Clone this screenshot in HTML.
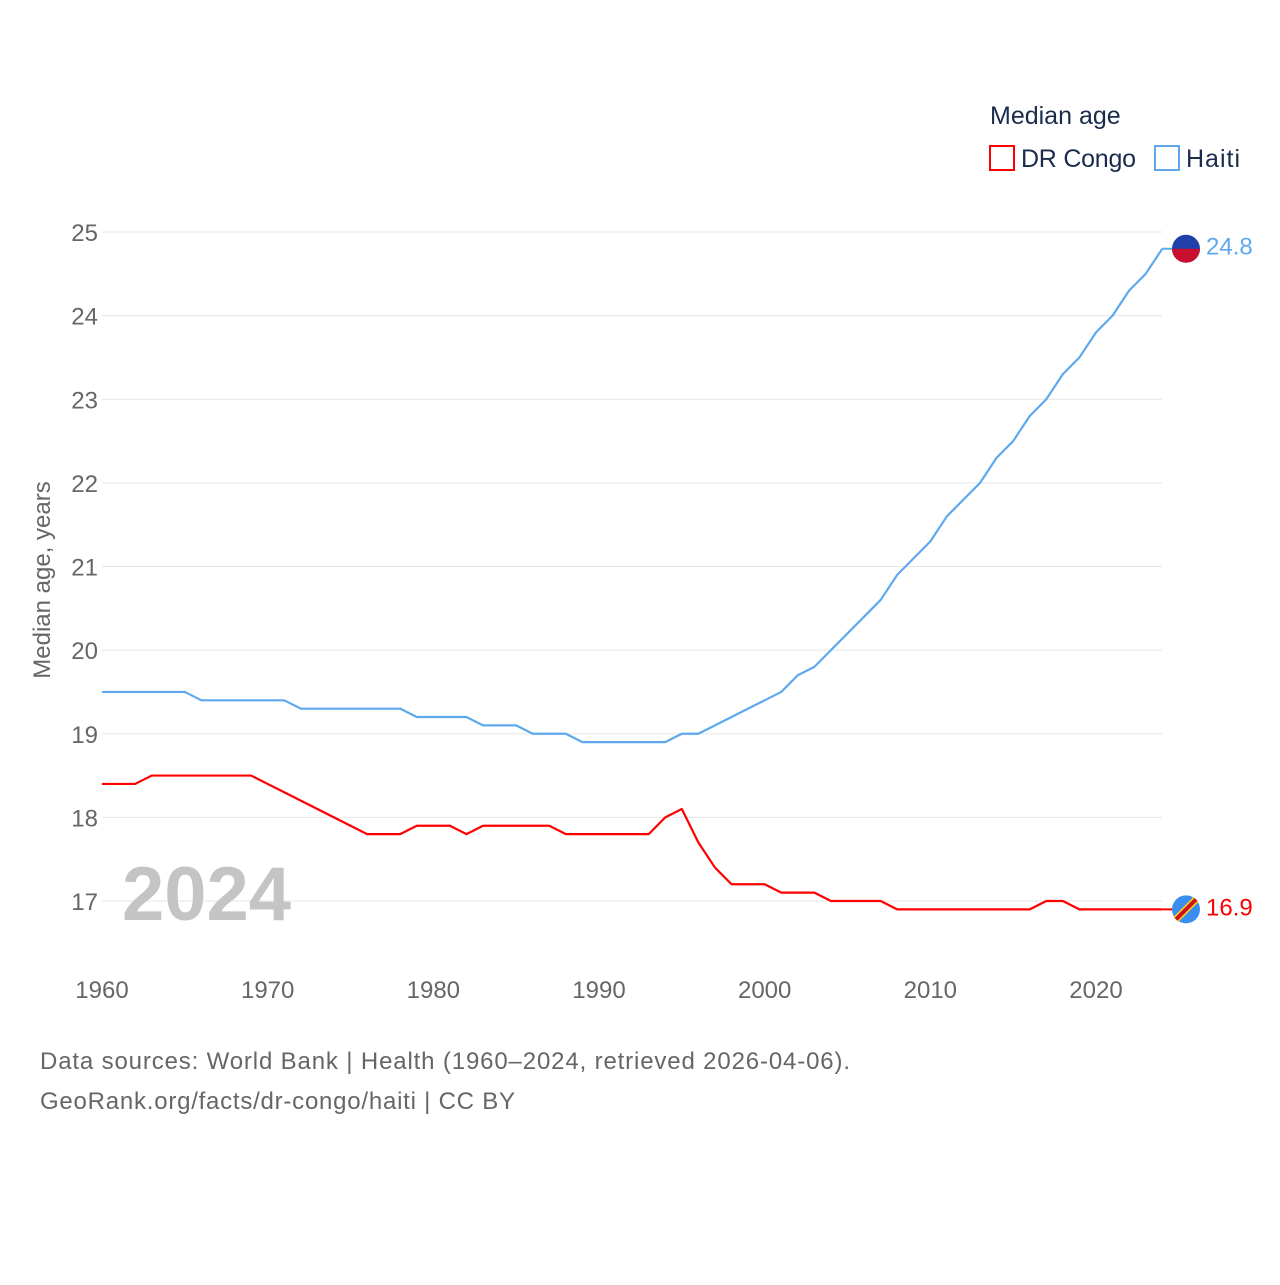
<!DOCTYPE html>
<html><head><meta charset="utf-8"><style>
body{margin:0;background:#fff;font-family:"Liberation Sans",sans-serif}
svg text{font-family:"Liberation Sans",sans-serif}
</style></head><body>
<svg width="1280" height="1280" xmlns="http://www.w3.org/2000/svg">
<g id="grid"></g>
<g id="yticks"></g>
<g id="xticks"></g>
<text x="122" y="920" font-size="76" font-weight="bold" fill="#c4c4c4">2024</text>
<text transform="translate(50,580) rotate(-90)" text-anchor="middle" font-size="24" fill="#666">Median age, years</text>
<g id="series"></g>
<g>
<text x="990" y="124" font-size="25" fill="#1a2b4c">Median age</text>
<g><rect x="990" y="146" width="24" height="24" fill="none" stroke="#f00" stroke-width="2"/><text x="1021" y="167" font-size="25" fill="#1a2b4c" textLength="115">DR Congo</text></g>
<g><rect x="1155" y="146" width="24" height="24" fill="none" stroke="#5ea9ee" stroke-width="2"/><text x="1186" y="167" font-size="25" fill="#1a2b4c" textLength="54">Haiti</text></g>
</g>
<text x="40" y="1069" font-size="24" fill="#666" textLength="810">Data sources: World Bank | Health (1960–2024, retrieved 2026-04-06).</text>
<text x="40" y="1109" font-size="24" fill="#666" textLength="475">GeoRank.org/facts/dr-congo/haiti | CC BY</text>
</svg>
<script>
const years=[];for(let y=1960;y<=2024;y++)years.push(y);
const haiti=[19.5,19.5,19.5,19.5,19.5,19.5,19.4,19.4,19.4,19.4,19.4,19.4,19.3,19.3,19.3,19.3,19.3,19.3,19.3,19.2,19.2,19.2,19.2,19.1,19.1,19.1,19.0,19.0,19.0,18.9,18.9,18.9,18.9,18.9,18.9,19.0,19.0,19.1,19.2,19.3,19.4,19.5,19.7,19.8,20.0,20.2,20.4,20.6,20.9,21.1,21.3,21.6,21.8,22.0,22.3,22.5,22.8,23.0,23.3,23.5,23.8,24.0,24.3,24.5,24.8];
const congo=[18.4,18.4,18.4,18.5,18.5,18.5,18.5,18.5,18.5,18.5,18.4,18.3,18.2,18.1,18.0,17.9,17.8,17.8,17.8,17.9,17.9,17.9,17.8,17.9,17.9,17.9,17.9,17.9,17.8,17.8,17.8,17.8,17.8,17.8,18.0,18.1,17.7,17.4,17.2,17.2,17.2,17.1,17.1,17.1,17.0,17.0,17.0,17.0,16.9,16.9,16.9,16.9,16.9,16.9,16.9,16.9,16.9,17.0,17.0,16.9,16.9,16.9,16.9,16.9,16.9];
const yTicks=[17,18,19,20,21,22,23,24,25];
const xTicks=[1960,1970,1980,1990,2000,2010,2020];
const NS="http://www.w3.org/2000/svg";
const X=v=>102+(v-1960)*994/60;
const Y=v=>901-(v-17)*669/8;
function mk(t,a,p){const e=document.createElementNS(NS,t);for(const k in a)e.setAttribute(k,a[k]);p.appendChild(e);return e;}
const grid=document.getElementById('grid'),yt=document.getElementById('yticks'),xt=document.getElementById('xticks'),ser=document.getElementById('series');
yTicks.forEach(v=>{
const l=mk('line',{x1:102,x2:1162,y1:Y(v),y2:Y(v),stroke:'#e6e6e6','stroke-width':1},grid);


const t=mk('text',{x:98,y:Y(v)+9,'text-anchor':'end','font-size':24,fill:'#666'},yt);t.textContent=v;


});
xTicks.forEach(v=>{
const t=mk('text',{x:X(v),y:998,'text-anchor':'middle','font-size':24,fill:'#666'},xt);t.textContent=v;


});
function line(data,color,name){
const p=mk('polyline',{points:data.map((v,i)=>X(years[i])+','+Y(v)).join(' '),fill:'none',stroke:color,'stroke-width':2.2,'stroke-linejoin':'round'},ser);


const last=data[data.length-1];
mk('line',{x1:X(2024),x2:X(2024)+20,y1:Y(last),y2:Y(last),stroke:color,'stroke-width':2},ser);
const c=mk('circle',{cx:1186,cy:Y(last),r:14,fill:color==='#f00'?'#3a8ef0':'#1e40a8'},ser);


const t=mk('text',{x:1206,y:Y(last)+6,'font-size':24,fill:color},ser);t.textContent=last.toFixed(1);


}
line(haiti,'#5ea9ee','haiti-line');
line(congo,'#f00','dr-congo-line');
mk('path',{d:`M1172 ${Y(24.8)} A14 14 0 0 0 1200 ${Y(24.8)} Z`,fill:'#c8102e'},ser);
mk('line',{x1:1176,y1:Y(16.9)+10,x2:1196,y2:Y(16.9)-10,stroke:'#f7d618','stroke-width':7},ser);
mk('line',{x1:1176,y1:Y(16.9)+10,x2:1196,y2:Y(16.9)-10,stroke:'#ce1021','stroke-width':4},ser);
</script>
</body></html>
